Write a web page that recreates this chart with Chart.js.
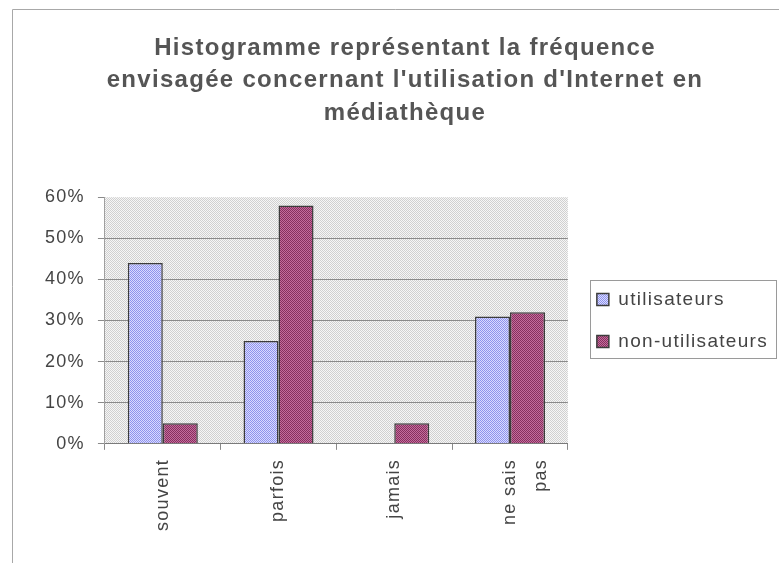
<!DOCTYPE html>
<html><head><meta charset="utf-8">
<script src="https://cdn.jsdelivr.net/npm/chart.js@4/dist/chart.umd.min.js"></script>
<style>html,body{margin:0;padding:0;background:#fff}</style>
</head><body>
<canvas id="c" width="779" height="563"></canvas>
<script>
const categories = ['souvent', 'parfois', 'jamais', ['ne sais', 'pas']];
const seriesNames = ['utilisateurs', 'non-utilisateurs'];
const utilisateurs = [44, 25, 0, 31];
const nonUtilisateurs = [5, 58, 5, 32];
const yTickValues = [0, 10, 20, 30, 40, 50, 60];
const titleLines = ['Histogramme représentant la fréquence', "envisagée concernant l'utilisation d'Internet en", 'médiathèque'];

const canvas = document.getElementById('c');
const mainCtx = canvas.getContext('2d');
function makePattern(a, b) {
  const c = document.createElement('canvas'); c.width = 2; c.height = 2;
  const x = c.getContext('2d');
  x.fillStyle = a; x.fillRect(0, 0, 2, 2);
  x.fillStyle = b; x.fillRect(0, 0, 1, 1); x.fillRect(1, 1, 1, 1);
  return mainCtx.createPattern(c, 'repeat');
}
const patUtil = makePattern('#dadaff', '#8e94ec');
const patNon = makePattern('#c46c9c', '#86305e');
const patBg = makePattern('#f6f6f6', '#d0d0d0');

const SPACING = '1.3px';
const spacingPlugin = {
  id: 'spacing',
  afterInit(ch) {
    if (ch.legend && !ch.legend._wideFix) {
      const orig = ch.legend.update.bind(ch.legend);
      ch.legend.update = (mw, mh, m) => orig(Math.max(mw, 220), mh, m);
      ch.legend._wideFix = true;
    }
  },
  beforeUpdate(ch) { ch.ctx.letterSpacing = SPACING; },
  beforeLayout(ch) { ch.ctx.letterSpacing = SPACING; },
  beforeDraw(ch) { ch.ctx.letterSpacing = SPACING; }
};
const bgPlugin = {
  id: 'bg',
  beforeDraw(ch) {
    const {ctx, chartArea: a} = ch;
    ctx.save();
    ctx.strokeStyle = '#a8a8a8'; ctx.lineWidth = 1;
    ctx.beginPath();
    ctx.moveTo(12.5, 563); ctx.lineTo(12.5, 9.5); ctx.lineTo(779, 9.5);
    ctx.stroke();
    ctx.fillStyle = patBg;
    ctx.fillRect(a.left, a.top, a.right - a.left, a.bottom - a.top);
    ctx.restore();
  },
  afterDraw(ch) {
    const hb = ch.legend && ch.legend.legendHitBoxes;
    if (!hb || !hb.length) return;
    const ctx = ch.ctx;
    let l = Infinity, r = -Infinity;
    hb.forEach(h => { l = Math.min(l, h.left); r = Math.max(r, h.left + h.width); });
    const t = hb[0].top, b = hb[hb.length - 1].top + hb[hb.length - 1].height;
    ctx.save();
    ctx.strokeStyle = '#9a9a9a'; ctx.lineWidth = 1;
    ctx.strokeRect(Math.round(l - 7) + 0.5, Math.round(t - 10) + 0.5, Math.round(r - l + 15), Math.round(b - t + 17));
    ctx.restore();
  }
};

new Chart(canvas, {
  type: 'bar',
  data: {
    labels: categories,
    datasets: [
      { label: seriesNames[0], data: utilisateurs, backgroundColor: patUtil, borderColor: '#3c3c3c', borderWidth: 1.5, borderSkipped: 'bottom' },
      { label: seriesNames[1], data: nonUtilisateurs, backgroundColor: patNon, borderColor: '#3c3c3c', borderWidth: 1.5, borderSkipped: 'bottom' }
    ]
  },
  options: {
    responsive: false,
    animation: false,
    devicePixelRatio: 1,
    datasets: { bar: { categoryPercentage: 0.605, barPercentage: 1 } },
    layout: { padding: { top: 10, left: 32, right: 1, bottom: 23 } },
    plugins: {
      tooltip: { enabled: false },
      title: {
        display: true, text: titleLines, color: '#555',
        font: { family: 'Liberation Sans, Arial, sans-serif', size: 24, weight: 'bold', lineHeight: 1.35 },
        padding: { top: 22, bottom: 68 }
      },
      legend: {
        position: 'right', fullSize: false,
        labels: {
          color: '#444', boxWidth: 12, boxHeight: 12, padding: 23,
          font: { family: 'Liberation Sans, Arial, sans-serif', size: 19 }
        }
      }
    },
    scales: {
      x: {
        grid: { drawOnChartArea: false, tickLength: 6, color: '#8a8a8a' },
        border: { color: '#7a7a7a', width: 1 },
        ticks: {
          color: '#444', minRotation: 90, maxRotation: 90, autoSkip: false, padding: 9,
          font: { family: 'Liberation Sans, Arial, sans-serif', size: 18, lineHeight: 1.75 }
        }
      },
      y: {
        min: 0, max: 60,
        afterBuildTicks(s) { s.ticks = yTickValues.map(v => ({ value: v })); },
        grid: {
          color: c => (c.tick && c.tick.value === 60) ? 'rgba(0,0,0,0)' : '#8a8a8a',
          tickColor: '#8a8a8a', tickLength: 7
        },
        border: { color: '#a0a0a0' },
        ticks: {
          color: '#444', padding: 13, callback: v => v + '%',
          font: { family: 'Liberation Sans, Arial, sans-serif', size: 18 }
        }
      },
      gap: {
        position: 'right', display: true,
        grid: { display: false }, ticks: { display: false }, border: { display: false },
        afterFit(s) { s.width = 6; }
      }
    }
  },
  plugins: [spacingPlugin, bgPlugin]
});
</script>
</body></html>
